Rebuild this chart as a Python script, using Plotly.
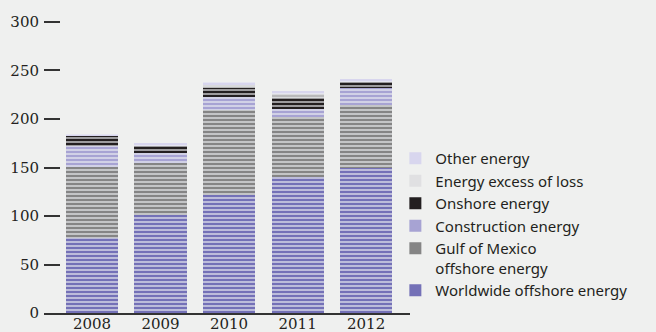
import plotly.graph_objects as go

# Energy segments by year (stacked, bottom to top)
years = ["2008", "2009", "2010", "2011", "2012"]
worldwide_offshore = [77, 101, 122, 140, 149.5]
gulf_of_mexico = [73.5, 54, 87, 62, 65]
construction = [22, 10, 13.5, 8, 17]
onshore = [10, 7, 9.5, 12, 7.5]
excess_of_loss = [0, 0, 3, 4, 0]
other = [2, 3, 3.5, 2.5, 2]

y_ticks = [0, 50, 100, 150, 200, 250, 300]

series = [
    ("Worldwide offshore energy", worldwide_offshore, "#7471b7", "#7471b7"),
    ("Gulf of Mexico<br>offshore energy", gulf_of_mexico, "#858585", "#858585"),
    ("Construction energy", construction, "#a7a3d3", "#a7a3d3"),
    ("Onshore energy", onshore, "#231f20", "#231f20"),
    ("Energy excess of loss", excess_of_loss, "#b9b9bb", "#e0e0e2"),
    ("Other energy", other, "#d8d6ee", "#d8d6ee"),
]

BG = "#eff0ef"
INK = "#231f20"

fig = go.Figure()

# Striped stacked bars
for name, vals, bar_col, _ in series:
    fig.add_trace(go.Bar(
        x=years, y=vals, name=name, showlegend=False,
        marker=dict(
            color=bar_col, line=dict(width=0),
            pattern=dict(shape="-", size=4, solidity=0.3,
                         fgcolor="#eef0f3", bgcolor=bar_col,
                         fillmode="replace"),
        ),
        hoverinfo="skip",
    ))

# Solid swatches for the legend, top entry first
for name, _, _, leg_col in reversed(series):
    fig.add_trace(go.Scatter(
        x=[None], y=[None], mode="markers", name=name,
        marker=dict(symbol="square", size=12, color=leg_col),
    ))

fig.update_layout(
    width=656, height=332,
    margin=dict(l=44, r=246, t=12, b=19),
    paper_bgcolor=BG, plot_bgcolor=BG,
    barmode="stack", bargap=0.24,
    showlegend=True,
    legend=dict(
        traceorder="normal", x=0.96, xanchor="left", y=0.02, yanchor="bottom",
        valign="top",
        bgcolor="rgba(0,0,0,0)", font=dict(family="Noto Sans", size=15, color=INK),
        itemclick=False, tracegroupgap=0,
    ),
    xaxis=dict(
        type="category", range=[-0.70, 4.64], automargin=False,
        showline=True, linecolor="#333333", linewidth=1.5,
        ticks="", showgrid=False, zeroline=False,
        ticklabelstandoff=-4,
        tickfont=dict(family="DejaVu Serif", size=15, color=INK),
    ),
    yaxis=dict(
        range=[0, 310.3], tickvals=y_ticks, automargin=False,
        ticks="inside", ticklen=16, tickwidth=1.5, tickcolor="#333333",
        ticklabelstandoff=4,
        showline=False, showgrid=False, zeroline=False,
        tickfont=dict(family="DejaVu Serif", size=15, color=INK),
    ),
)

fig.write_html("out.html")
